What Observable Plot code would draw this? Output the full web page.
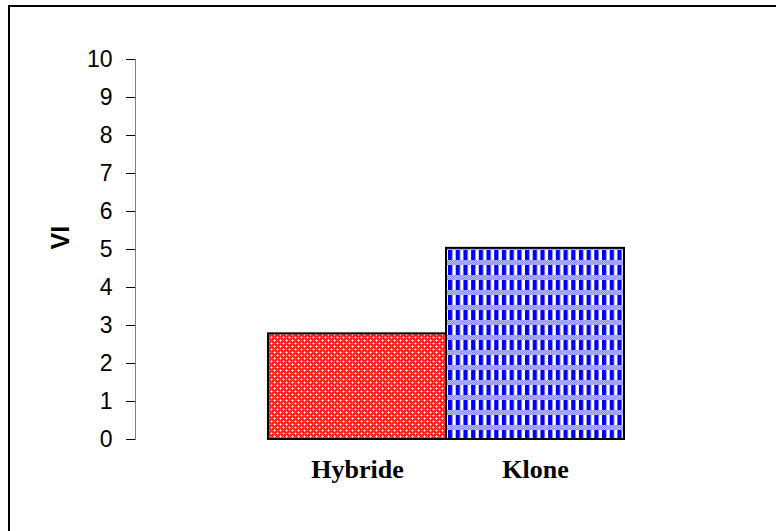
<!DOCTYPE html>
<html>
<head>
<meta charset="utf-8">
<script src="https://cdn.jsdelivr.net/npm/d3@7"></script>
<script src="https://cdn.jsdelivr.net/npm/@observablehq/plot@0.6"></script>
<style>
  html, body { margin: 0; padding: 0; background: #fff; overflow: hidden; }
  #wrap { position: relative; width: 776px; height: 531px; }
  #border { position: absolute; left: 8px; top: 5px; width: 800px; height: 600px;
            border-left: 2px solid #000; border-top: 2px solid #000; pointer-events: none; }
  #chart { position: absolute; left: 0; top: 0; }
</style>
</head>
<body>
<div id="wrap">
  <div id="chart"></div>
  <div id="border"></div>
</div>
<script>
// Data
const categories = ["Hybride", "Klone"];
const values = [2.78, 5.03];
const patterns = ["url(#redPat)", "url(#bluePat)"];
const yTicks = [0, 1, 2, 3, 4, 5, 6, 7, 8, 9, 10];
const yLabel = "VI";

const data = categories.map((c, i) => ({cat: c, v: values[i], pat: patterns[i]}));
const sans = "'Liberation Sans', Arial, sans-serif";

const chart = Plot.plot({
  width: 776,
  height: 531,
  marginTop: 59,
  marginBottom: 92,
  marginLeft: 135,
  marginRight: 20,
  style: {background: "transparent", overflow: "visible"},
  x: {domain: categories, range: [268, 624], padding: 0},
  y: {domain: [0, 10], ticks: yTicks},
  color: {type: "identity"},
  marks: [
    Plot.barY(data, {x: "cat", y: "v", fill: "pat", stroke: "#000", strokeWidth: 2, inset: 0}),
    Plot.frame({anchor: "left", stroke: "#808080", strokeWidth: 1}),
    Plot.axisY({ticks: yTicks, tickSize: 9, tickPadding: 14, label: null,
      fontSize: 23, fontFamily: sans, stroke: "#000", fill: "#000"}),
    Plot.axisX({tickSize: 0, tickPadding: 20, label: null,
      fontSize: 26, fontWeight: "bold", fontFamily: "'Liberation Serif', 'Times New Roman', serif", fill: "#000"}),
    Plot.text([yLabel], {frameAnchor: "left", dx: -75, dy: 0, rotate: -90, text: d => d,
      fontSize: 25, fontWeight: "bold", fontFamily: sans, fill: "#000"})
  ]
});

// Pattern definitions
const svgNS = "http://www.w3.org/2000/svg";
const defs = document.createElementNS(svgNS, "defs");
function el(tag, attrs, parent) {
  const e = document.createElementNS(svgNS, tag);
  for (const k in attrs) e.setAttribute(k, attrs[k]);
  parent.appendChild(e);
  return e;
}
// Red fine pattern
const rp = el("pattern", {id: "redPat", patternUnits: "userSpaceOnUse", width: 6, height: 6}, defs);
el("rect", {x: 0, y: 0, width: 6, height: 6, fill: "#ff2020"}, rp);
[[1,1],[4,4]].forEach(([x,y]) => {
  [[x-1,y],[x+1,y],[x,y-1],[x,y+1]].forEach(([a,b]) => el("rect", {x: a, y: b, width: 1, height: 1, fill: "#ff9a9a"}, rp));
  el("rect", {x, y, width: 1, height: 1, fill: "#ffffff"}, rp);
});
[[1,4],[4,1]].forEach(([x,y]) => el("rect", {x, y, width: 1, height: 1, fill: "#ff6a6a"}, rp));
// Blue plaid pattern
const bp = el("pattern", {id: "bluePat", patternUnits: "userSpaceOnUse", width: 7.7, height: 15, x: 448, y: 5}, defs);
el("rect", {x: 0, y: 0, width: 7.7, height: 15, fill: "#ffffff"}, bp);
el("rect", {x: 0, y: 0, width: 4.3, height: 15, fill: "#0000ff"}, bp);
el("rect", {x: 0, y: 0, width: 7.7, height: 5, fill: "#7070ff"}, bp);
for (let yy = 0; yy < 5; yy++) for (let xx = 0; xx < 8; xx++) {
  if ((xx + yy) % 2 === 0) el("rect", {x: xx, y: yy, width: 1, height: 1, fill: "#ffffff", "fill-opacity": 0.7}, bp);
}
chart.insertBefore(defs, chart.firstChild);

document.getElementById("chart").appendChild(chart);
</script>
</body>
</html>
